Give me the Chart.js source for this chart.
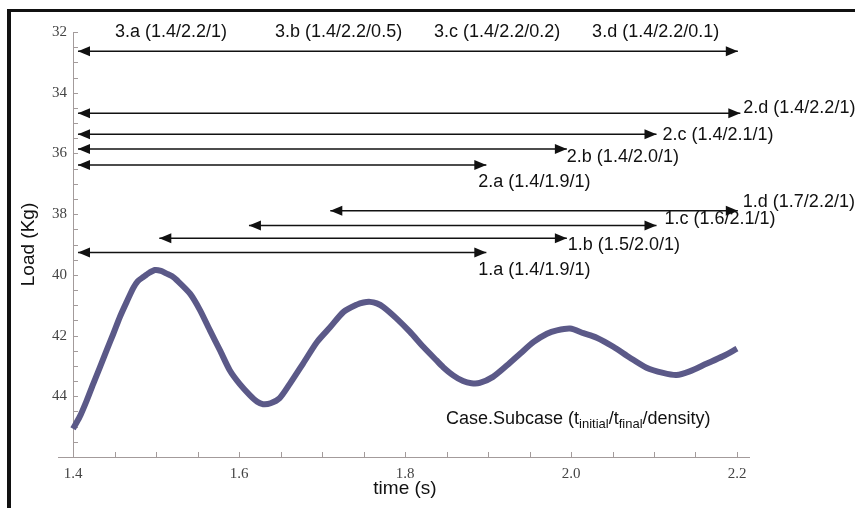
<!DOCTYPE html>
<html>
<head>
<meta charset="utf-8">
<script src="https://cdn.jsdelivr.net/npm/chart.js@4.4.1/dist/chart.umd.min.js"></script>
<style>
    html, body { margin: 0; padding: 0; background: #fff; }
    #wrap { position: relative; width: 855px; height: 508px; }
</style>
</head>
<body>
<div id="wrap"><canvas id="myChart" width="855" height="508"></canvas></div>
<script>
// load curve: time (s) / load (Kg)
const timeValues = [
    1.400, 1.408, 1.4165, 1.4245, 1.4325, 1.4406, 1.4486, 1.4566, 1.4647, 1.4727,
    1.478, 1.4847, 1.492, 1.4988, 1.506, 1.5129, 1.519, 1.5249, 1.541, 1.553,
    1.565, 1.577, 1.589, 1.601, 1.613, 1.622, 1.629, 1.638, 1.649, 1.661,
    1.677, 1.694, 1.710, 1.726, 1.742, 1.750, 1.758, 1.766, 1.774, 1.790,
    1.806, 1.822, 1.838, 1.846, 1.858, 1.870, 1.880, 1.890, 1.906, 1.923,
    1.939, 1.955, 1.971, 1.983, 1.999, 2.015, 2.031, 2.051, 2.071, 2.091,
    2.111, 2.127, 2.143, 2.163, 2.183, 2.200
];
const loadValues = [
    45.07, 44.68, 44.14, 43.58, 43.04, 42.48, 41.94, 41.38, 40.89, 40.43,
    40.21, 40.07, 39.93, 39.84, 39.87, 39.96, 40.04, 40.17, 40.62, 41.16,
    41.83, 42.48, 43.15, 43.60, 43.96, 44.18, 44.26, 44.23, 44.06, 43.60,
    42.93, 42.21, 41.72, 41.22, 40.98, 40.91, 40.89, 40.94, 41.06, 41.44,
    41.88, 42.37, 42.82, 43.04, 43.31, 43.50, 43.57, 43.56, 43.36, 42.98,
    42.59, 42.21, 41.94, 41.83, 41.77, 41.92, 42.07, 42.37, 42.73, 43.06,
    43.23, 43.30, 43.18, 42.93, 42.68, 42.43
];

// subcase arrows (t_initial -> t_final), drawn at a load level
const arrowNames = ['3', '2.d', '2.c', '2.b', '2.a', '1.d', '1.c', '1.b', '1.a'];
const arrowStart = [1.406, 1.406, 1.406, 1.406, 1.406, 1.710, 1.612, 1.504, 1.406];
const arrowEnd   = [2.201, 2.204, 2.103, 1.995, 1.898, 2.201, 2.103, 1.995, 1.898];
const arrowLoad  = [32.63, 34.68, 35.37, 35.85, 36.38, 37.89, 38.37, 38.79, 39.26];
const arrowLabels = [
    '', '2.d (1.4/2.2/1)', '2.c (1.4/2.1/1)', '2.b (1.4/2.0/1)', '2.a (1.4/1.9/1)',
    '1.d (1.7/2.2/1)', '1.c (1.6/2.1/1)', '1.b (1.5/2.0/1)', '1.a (1.4/1.9/1)'
];
const case3Labels = ['3.a (1.4/2.2/1)', '3.b (1.4/2.2/0.5)', '3.c (1.4/2.2/0.2)', '3.d (1.4/2.2/0.1)'];

// axis ticks
const xTickLabels = [1.4, 1.6, 1.8, 2.0, 2.2];
const yTickLabels = [32, 34, 36, 38, 40, 42, 44];

// label placement (pixel offsets from the arrow tip)
const labelDx = [0, 3, 6, 0, -8, 5, 8, 1, -8];
const labelDy = [0, -5, 1, 8, 17, -9, -6, 7, 18];
const case3LabelTime = [1.518, 1.720, 1.911, 2.102];

const SANS = '"Liberation Sans", Arial, sans-serif';
const SERIF = '"Liberation Serif", "Times New Roman", serif';
const AXIS_COLOR = '#a39b9b';

function drawHead(ctx, tipX, y, dir) {
    ctx.beginPath();
    ctx.moveTo(tipX, y);
    ctx.lineTo(tipX - dir * 12, y - 5);
    ctx.lineTo(tipX - dir * 12, y + 5);
    ctx.closePath();
    ctx.fill();
}

const decorPlugin = {
    id: 'decor',
    beforeDraw(chart) {
        const ctx = chart.ctx;
        ctx.save();
        ctx.fillStyle = '#fff';
        ctx.fillRect(0, 0, chart.width, chart.height);
        ctx.fillStyle = '#111';
        ctx.fillRect(8, 9, chart.width - 8, 3);
        ctx.fillRect(7, 9, 4, chart.height - 9);
        ctx.restore();
    },
    beforeDatasetsDraw(chart) {
        const ctx = chart.ctx;
        const xs = chart.scales.x, ys = chart.scales.y;
        const a = chart.chartArea;
        ctx.save();
        ctx.strokeStyle = AXIS_COLOR;
        ctx.lineWidth = 1;
        ctx.beginPath();
        ctx.moveTo(a.left - 15, a.bottom + 0.5);
        ctx.lineTo(a.right + 13, a.bottom + 0.5);
        ctx.moveTo(a.left + 0.5, a.top);
        ctx.lineTo(a.left + 0.5, a.bottom);
        for (let t = 1.4; t <= 2.2001; t += 0.05) {
            const px = Math.round(xs.getPixelForValue(t)) + 0.5;
            ctx.moveTo(px, a.bottom);
            ctx.lineTo(px, a.bottom - 5);
        }
        for (let v = 32; v < 45.99; v += 0.5) {
            const py = Math.round(ys.getPixelForValue(v)) + 0.5;
            ctx.moveTo(a.left, py);
            ctx.lineTo(a.left + 5, py);
        }
        ctx.stroke();
        ctx.restore();
    },
    afterDatasetsDraw(chart) {
        const ctx = chart.ctx;
        const xs = chart.scales.x, ys = chart.scales.y;
        ctx.save();
        ctx.fillStyle = '#111';
        ctx.font = '18px ' + SANS;
        ctx.textBaseline = 'middle';
        arrowNames.forEach((n, i) => {
            const y = ys.getPixelForValue(arrowLoad[i]);
            const x0 = xs.getPixelForValue(arrowStart[i]);
            const x1 = xs.getPixelForValue(arrowEnd[i]);
            drawHead(ctx, x0, y, -1);
            drawHead(ctx, x1, y, 1);
            if (arrowLabels[i]) {
                ctx.textAlign = 'left';
                ctx.fillText(arrowLabels[i], x1 + labelDx[i], y + labelDy[i]);
            }
        });
        ctx.textAlign = 'center';
        case3Labels.forEach((lbl, i) => {
            ctx.fillText(lbl, xs.getPixelForValue(case3LabelTime[i]), ys.getPixelForValue(32));
        });

        // Case.Subcase (t_initial/t_final/density)
        let x = xs.getPixelForValue(1.8494);
        const base = ys.getPixelForValue(44.91);
        ctx.textAlign = 'left';
        ctx.textBaseline = 'alphabetic';
        const parts = [
            ['Case.Subcase (t', false], ['initial', true], ['/t', false], ['final', true], ['/density)', false]
        ];
        parts.forEach(([txt, sub]) => {
            ctx.font = (sub ? '13px ' : '18px ') + SANS;
            ctx.fillText(txt, x, sub ? base + 4 : base);
            x += ctx.measureText(txt).width;
        });
        ctx.restore();
    }
};

function initChart() {
    const ctx = document.getElementById('myChart').getContext('2d');
    const datasets = [{
        label: 'Load',
        data: timeValues.map((t, i) => ({ x: t, y: loadValues[i] })),
        showLine: true,
        borderColor: '#5b5988',
        backgroundColor: '#5b5988',
        borderWidth: 6,
        pointRadius: 0,
        tension: 0.25,
        clip: false
    }];
    arrowNames.forEach((n, i) => {
        datasets.push({
            label: n,
            data: [{ x: arrowStart[i], y: arrowLoad[i] }, { x: arrowEnd[i], y: arrowLoad[i] }],
            showLine: true,
            borderColor: '#111',
            borderWidth: 1.5,
            pointRadius: 0,
            clip: false
        });
    });

    new Chart(ctx, {
        type: 'scatter',
        data: { datasets },
        options: {
            responsive: false,
            animation: false,
            layout: { padding: { top: 32, right: 118, left: 0, bottom: 0 } },
            scales: {
                x: {
                    type: 'linear',
                    min: 1.4,
                    max: 2.2,
                    grid: { display: false },
                    border: { display: false },
                    afterBuildTicks: s => { s.ticks = xTickLabels.map(v => ({ value: v })); },
                    afterFit: s => { s.height = 51; },
                    ticks: {
                        padding: 0,
                        color: '#444',
                        font: { family: SERIF, size: 15 },
                        callback: v => Number(v).toFixed(1)
                    },
                    title: {
                        display: true,
                        text: 'time (s)',
                        color: '#111',
                        font: { family: SANS, size: 19 },
                        padding: { top: 0, bottom: 8 }
                    }
                },
                y: {
                    type: 'linear',
                    reverse: true,
                    min: 32,
                    max: 46,
                    grid: { display: false },
                    border: { display: false },
                    afterBuildTicks: s => { s.ticks = yTickLabels.map(v => ({ value: v })); },
                    afterFit: s => { s.width = 73; },
                    ticks: {
                        padding: -2,
                        color: '#444',
                        font: { family: SERIF, size: 15 }
                    },
                    title: {
                        display: true,
                        text: 'Load (Kg)',
                        color: '#111',
                        font: { family: SANS, size: 19 },
                        padding: { top: 17, bottom: 0 }
                    }
                }
            },
            plugins: {
                legend: { display: false },
                tooltip: { enabled: false }
            }
        },
        plugins: [decorPlugin]
    });
}

document.addEventListener('DOMContentLoaded', initChart);
</script>
</body>
</html>
